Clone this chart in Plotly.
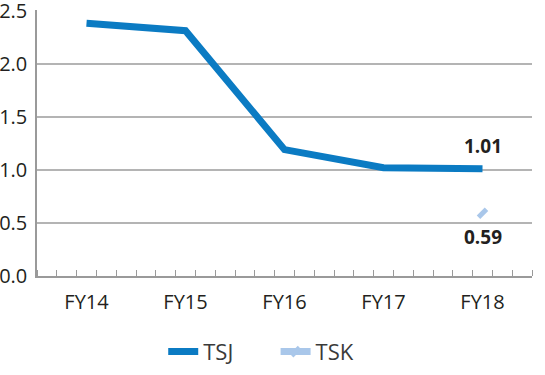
import plotly.graph_objects as go

categories = ["FY14", "FY15", "FY16", "FY17", "FY18"]
tsj = [2.38, 2.31, 1.19, 1.02, 1.01]
tsk = [None, None, None, None, 0.59]
y_ticks = [0.0, 0.5, 1.0, 1.5, 2.0, 2.5]

xi = list(range(len(categories)))
FONT = "Open Sans, Noto Sans, sans-serif"

fig = go.Figure()
fig.add_trace(go.Scatter(
    x=xi, y=tsj, name="TSJ", mode="lines",
    line=dict(color="#0b7bc3", width=7), legend="legend",
))
fig.add_trace(go.Scatter(
    x=xi, y=tsk, name="TSK", mode="lines+markers",
    line=dict(color="#a9c7ea", width=7), legend="legend2",
    marker=dict(symbol="line-ne", size=8, color="#a9c7ea",
                line=dict(color="#a9c7ea", width=5)),
))

fig.add_annotation(x=xi[-1], y=tsj[-1], text="<b>%.2f</b>" % tsj[-1],
                   showarrow=False, yshift=23, font=dict(size=19, color="#231f20", family=FONT))
fig.add_annotation(x=xi[-1], y=tsk[-1], text="<b>%.2f</b>" % tsk[-1],
                   showarrow=False, yshift=-24, font=dict(size=19, color="#231f20", family=FONT))

leg_common = dict(orientation="h", yanchor="middle", y=-0.285, xanchor="left",
                  font=dict(size=22, color="#3a3a3a", family=FONT), itemwidth=30,
                  bgcolor="rgba(0,0,0,0)")

fig.update_layout(
    width=545, height=375,
    margin=dict(l=37, r=13, t=10, b=99, autoexpand=False),
    paper_bgcolor="white", plot_bgcolor="white",
    font=dict(family=FONT, size=20, color="#231f20"),
    showlegend=True,
    legend=dict(leg_common, x=0.255),
    legend2=dict(leg_common, x=0.482),
    xaxis=dict(
        range=[-0.5, 4.5], tickvals=xi, ticktext=categories,
        tickfont=dict(size=20, color="#231f20", family=FONT),
        showgrid=False, zeroline=False, showline=True, linecolor="#9a9a9a", linewidth=1.5,
        ticks="", ticklabelstandoff=7, automargin=False,
        minor=dict(tick0=-0.5, dtick=0.2, ticks="inside", ticklen=6, tickcolor="#9a9a9a", tickwidth=1),
        fixedrange=True,
    ),
    yaxis=dict(
        range=[0, 2.505], tickvals=y_ticks, ticktext=["%.1f" % v for v in y_ticks],
        tickfont=dict(size=20, color="#231f20", family=FONT),
        showgrid=True, gridcolor="#b4b4b4", gridwidth=1.5, zeroline=False,
        showline=True, linecolor="#9a9a9a", linewidth=1.5, ticks="", ticklabelstandoff=4,
        ticklabeloverflow="allow",
        automargin=False, fixedrange=True,
    ),
)

fig.write_html("out.html", config={"displayModeBar": False},
               post_script="document.body.style.margin='0';")
